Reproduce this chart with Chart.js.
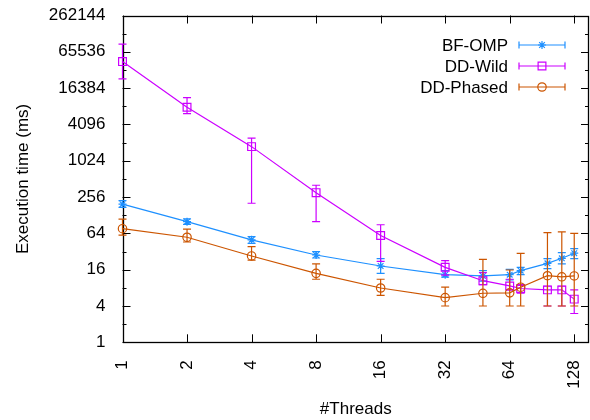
<!DOCTYPE html>
<html><head><meta charset="utf-8">
<script src="https://cdn.jsdelivr.net/npm/chart.js@4"></script>
<style>html,body{margin:0;padding:0;background:#fff}</style>
</head><body>
<canvas id="c" width="590" height="420"></canvas>
<script>
const threads = [1,2,4,8,16,32,48,64,72,96,112,128];
const xTicks = [1,2,4,8,16,32,64,128];
const yTicks = [1,4,16,64,256,1024,4096,16384,65536,262144];
const seriesNames = ['BF-OMP','DD-Wild','DD-Phased'];
const bfOmp   = [195,100,50,28,18.4,13.2,12.6,13.2,15.4,20.4,24.7,30];
const bfOmpLo = [173,90.5,43.8,25,13.9,12,10.3,10.8,13.2,16.6,19.9,24.4];
const bfOmpHi = [223,111,56.4,31.8,24.4,15.4,15.4,16.2,17.5,24.4,30.6,35.7];
const ddWild   = [45100,7900,1755,303,59,17.5,10.5,8.6,7.8,7.4,7.4,5.2];
const ddWildLo = [23300,6200,202,100,22,13,9.0,7.4,6.5,4.0,4.0,3.0];
const ddWildHi = [87600,11400,2420,402,89,22.6,14.3,11.1,8.8,8.5,8.5,7.4];
const ddPhased   = [76.5,55.2,27,13.9,7.95,5.5,6.5,6.6,8.2,12.7,12.2,12.6];
const ddPhasedLo = [60,46,23.1,11.1,6.0,4.0,4.0,4.0,4.0,4.0,4.0,4.0];
const ddPhasedHi = [110,75,38.5,19.9,11.1,8.2,23.8,15.8,29.9,65.7,67.5,64];

const colors = ['#1e90ff','#cc00ff','#cc5500'];
const styles = ['star','rect','circle'];
const radii = [4,5.5,4.2];
const FONT = '"Liberation Sans", Arial, sans-serif';

function mk(i, vals, lo, hi, order){
  return {
    label: seriesNames[i],
    data: threads.map((t,k)=>({x:t,y:vals[k]})),
    errLo: lo, errHi: hi,
    borderColor: colors[i], backgroundColor: 'rgba(0,0,0,0)',
    borderWidth: 1.2, pointStyle: styles[i], pointRadius: radii[i],
    pointBorderColor: colors[i], pointBorderWidth: 1.2, pointBackgroundColor:'rgba(0,0,0,0)',
    tension: 0, clip: false, order: order
  };
}

function drawErr(ctx, px, y1, y2, color){
  ctx.strokeStyle = color; ctx.lineWidth = 1.2;
  ctx.beginPath();
  ctx.moveTo(px,y1); ctx.lineTo(px,y2);
  ctx.moveTo(px-4,y1); ctx.lineTo(px+4,y1);
  ctx.moveTo(px-4,y2); ctx.lineTo(px+4,y2);
  ctx.stroke();
}

const errPlugin = {
  id:'err',
  afterDatasetDraw(chart, args){
    const ds = chart.data.datasets[args.index];
    const xs = chart.scales.x, ys = chart.scales.y, ctx = chart.ctx;
    ctx.save();
    ds.data.forEach((p,i)=>{
      const px = xs.getPixelForValue(p.x);
      drawErr(ctx, px, ys.getPixelForValue(ds.errLo[i]), ys.getPixelForValue(ds.errHi[i]), ds.borderColor);
    });
    ctx.restore();
  }
};

const framePlugin = {
  id:'frame',
  beforeDatasetsDraw(chart){
    const {ctx, chartArea:a, scales:{x,y}} = chart;
    ctx.save(); ctx.strokeStyle='#000'; ctx.lineWidth=1;
    ctx.beginPath();
    xTicks.forEach(v=>{
      const px = Math.round(x.getPixelForValue(v))+0.5;
      ctx.moveTo(px,a.bottom); ctx.lineTo(px,a.bottom-8);
      ctx.moveTo(px,a.top); ctx.lineTo(px,a.top+8);
    });
    for(let k=0;k<=18;k++){
      const v=Math.pow(2,k); const len = (k%2===0)?8:4;
      const py = Math.round(y.getPixelForValue(v))+0.5;
      ctx.moveTo(a.left,py); ctx.lineTo(a.left+len,py);
      ctx.moveTo(a.right,py); ctx.lineTo(a.right-len,py);
    }
    ctx.stroke();
    ctx.lineWidth=1.3;
    const L=Math.round(a.left)+0.5, R=Math.round(a.right)-0.5, T=Math.round(a.top)+0.5, B=Math.round(a.bottom)+0.5;
    ctx.strokeRect(L, T, R-L, B-T);
    ctx.restore();
  },
  afterDraw(chart){
    const ctx = chart.ctx;
    ctx.save();
    ctx.font = '17px '+FONT; ctx.textAlign='right'; ctx.textBaseline='middle';
    chart.data.datasets.forEach((ds,i)=>{
      const yy = 45 + i*21;
      ctx.fillStyle='#000';
      ctx.fillText(ds.label, 508, yy+1);
      ctx.strokeStyle = ds.borderColor; ctx.lineWidth=1.2;
      ctx.beginPath(); ctx.moveTo(519,yy); ctx.lineTo(565,yy);
      ctx.moveTo(519,yy-3.5); ctx.lineTo(519,yy+3.5);
      ctx.moveTo(565,yy-3.5); ctx.lineTo(565,yy+3.5);
      ctx.stroke();
      ctx.fillStyle='rgba(0,0,0,0)';
      Chart.helpers.drawPoint(ctx, {pointStyle: ds.pointStyle, radius: ds.pointRadius, borderWidth:1.2}, 542, yy);
    });
    ctx.restore();
  }
};

new Chart(document.getElementById('c'), {
  type: 'line',
  data: { datasets: [
    mk(0, bfOmp, bfOmpLo, bfOmpHi, 3),
    mk(1, ddWild, ddWildLo, ddWildHi, 2),
    mk(2, ddPhased, ddPhasedLo, ddPhasedHi, 1)
  ]},
  options: {
    responsive:false, animation:false, devicePixelRatio:1,
    layout:{autoPadding:false, padding:{left:0,right:1,top:15.5,bottom:0}},
    plugins:{legend:{display:false}, tooltip:{enabled:false}},
    scales:{
      x:{ type:'logarithmic', min:1, max:150, bounds:'data',
        afterBuildTicks:s=>{s.ticks = xTicks.map(v=>({value:v}));},
        afterFit:s=>{s.height = 77.7; s.paddingLeft=0; s.paddingRight=0;},
        grid:{display:false}, border:{display:false},
        ticks:{ callback:v=>String(v), minRotation:90, maxRotation:90, autoSkip:false, padding:10,
          color:'#000', font:{family:FONT, size:17}},
        title:{display:true, text:'#Threads', color:'#000', font:{family:FONT, size:17}, padding:{top:0,bottom:0}}
      },
      y:{ type:'logarithmic', min:1, max:262144, bounds:'data',
        afterBuildTicks:s=>{s.ticks = yTicks.map(v=>({value:v}));},
        afterFit:s=>{s.width = 122.5; s.paddingTop=0; s.paddingBottom=0;},
        grid:{display:false}, border:{display:false},
        ticks:{ callback:v=>String(v), autoSkip:false, padding:9, color:'#000', font:{family:FONT, size:17}},
        title:{display:true, text:'Execution time (ms)', color:'#000', font:{family:FONT, size:17}, padding:{top:13,bottom:0}}
      }
    }
  },
  plugins:[errPlugin, framePlugin]
});
</script>
</body></html>
